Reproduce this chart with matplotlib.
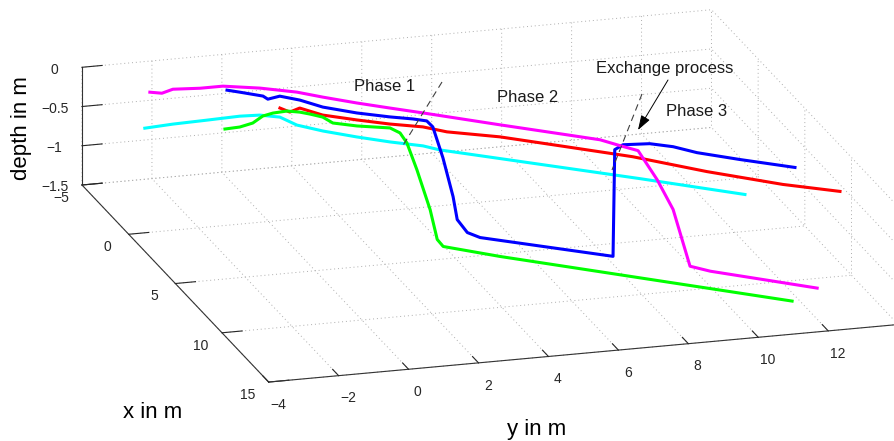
import matplotlib
matplotlib.use("Agg")
import matplotlib.pyplot as plt
from matplotlib.lines import Line2D
from mpl_toolkits.mplot3d import proj3d

plt.rcParams['font.family'] = ['Liberation Sans', 'DejaVu Sans']

# ---- vehicle tracks: x (m), y (m), depth (m) ----
magenta_x = [-4.66, -4.46, -4.74, -4.60, -4.60, -4.10, -3.41, -2.72, -1.88, -1.13, -0.39,
             1.38, 2.88, 3.63, 4.35, 4.97, 6.37, 8.20, 11.81, 12.45, 14.94]
magenta_y = [-2.15, -1.86, -1.47, -0.73, -0.08, 0.85, 1.72, 2.28, 3.03, 3.77, 4.52,
             6.25, 7.76, 8.51, 8.89, 9.24, 9.41, 9.38, 8.90, 9.31, 11.70]
magenta_z = [-0.35, -0.35, -0.35, -0.35, -0.35, -0.35, -0.35, -0.35, -0.35, -0.35, -0.35,
             -0.35, -0.35, -0.35, -0.35, -0.35, -0.55, -0.70, -0.95, -0.95, -0.95]

blue_x = [-4.19, -3.89, -3.33, -3.00, -3.18, -2.64, -1.79, -0.95, -0.30, 0.09, 0.39,
          0.85, 2.87, 5.12, 6.20, 6.91, 7.34, 7.78, 10.23,
          4.68, 4.29, 4.42, 4.90, 5.66, 6.67, 7.88]
blue_y = [-0.07, 0.22, 0.73, 0.78, 1.17, 1.60, 2.03, 2.78, 3.55, 4.11, 4.42,
          4.47, 4.22, 3.91, 3.74, 3.84, 4.09, 4.55, 7.12,
          8.65, 8.99, 9.72, 10.26, 10.74, 11.70, 12.95]
blue_z = [-0.35, -0.35, -0.35, -0.35, -0.35, -0.35, -0.35, -0.35, -0.35, -0.35, -0.35,
          -0.37, -0.50, -0.70, -0.85, -0.93, -0.95, -0.95, -0.95,
          -0.35, -0.35, -0.35, -0.35, -0.35, -0.35, -0.35]

red_x = [-5.00, -4.54, -4.83, -3.98, -3.23, -2.57, -2.02, -1.35, -0.43, 1.07, 2.56, 4.58, 6.43, 7.57]
red_y = [1.66, 1.82, 2.18, 2.61, 3.39, 4.15, 4.95, 5.46, 6.73, 8.24, 9.73, 11.31, 12.99, 14.32]
red_z = [-0.75, -0.75, -0.75, -0.75, -0.75, -0.75, -0.75, -0.75, -0.75, -0.75, -0.75, -0.75, -0.75, -0.75]

cyan_x = [-4.64, -4.78, -4.86, -4.95, -4.88, -4.52, -3.63, -2.85, -2.01, -1.26, -0.61, -0.09, 4.30, 6.68]
cyan_y = [-2.30, -1.46, -0.47, 0.50, 1.05, 1.53, 1.78, 2.32, 3.06, 3.81, 4.58, 4.92, 9.47, 11.84]
cyan_z = [-0.80, -0.80, -0.80, -0.80, -0.80, -0.80, -0.80, -0.80, -0.80, -0.80, -0.80, -0.80, -0.80, -0.80]

green_x = [-3.51, -3.57, -3.83, -4.40, -4.59, -4.66, -4.45, -4.18, -3.79, -3.15, -2.67, -2.20, -1.65,
           -1.03, 1.21, 4.31, 6.42, 6.76, 8.18, 14.84]
green_y = [-0.31, 0.13, 0.57, 1.01, 1.35, 1.77, 2.08, 2.30, 2.56, 2.68, 3.24, 4.06, 4.20,
           4.23, 3.92, 3.47, 3.11, 3.19, 4.44, 11.01]
green_z = [-0.75, -0.75, -0.75, -0.75, -0.75, -0.75, -0.75, -0.75, -0.75, -0.75, -0.75, -0.75, -0.75,
           -0.80, -0.85, -0.95, -1.05, -1.10, -1.10, -1.10]

x_ticks = [-5, 0, 5, 10, 15]
y_ticks = [-4, -2, 0, 2, 4, 6, 8, 10, 12]
z_ticks = [-1.5, -1, -0.5, 0]
z_tick_labels = ['\u22121.5', '\u22121', '\u22120.5', '0']

W, H = 895, 441
fig = plt.figure(figsize=(W / 100, H / 100), dpi=100)
ax = fig.add_axes([0, 0, 1, 1], projection='3d', proj_type='ortho')
ax.view_init(elev=18.1, azim=-16.4)
ax.set_box_aspect((662, 657, 124))
ax.set_xlim(-5, 15, view_margin=0)
ax.set_ylim(-4, 14, view_margin=0)
ax.set_zlim(-1.5, 0, view_margin=0)
ax.computed_zorder = False

ax.set_xticks(x_ticks)
ax.set_yticks(y_ticks)
ax.set_zticks(z_ticks)
ax.set_zticklabels(z_tick_labels)
ax.zaxis.set_ticks_position('lower')

for axis in (ax.xaxis, ax.yaxis, ax.zaxis):
    axis.set_pane_color((1, 1, 1, 0))
    axis.pane.set_edgecolor('none')
    axis._axinfo['grid'].update(color=(0.68, 0.68, 0.68), linewidth=0.7, linestyle=(0, (1, 3)))
    axis.line.set_color('0.2')
    axis.line.set_linewidth(0.8)
    axis._axinfo['tick']['inward_factor'] = 0.0
    axis._axinfo['tick']['outward_factor'] = 0.4
    axis._axinfo['tick']['linewidth'] = {True: 0.8, False: 0.5}
    axis._axinfo['tick']['color'] = '0.2'
ax.tick_params(labelsize=10, colors='0.15')
ax.yaxis.set_tick_params(pad=9)

lw = 2.2
ax.plot(red_x, red_y, red_z, color=(1, 0, 0), lw=lw, zorder=1)
ax.plot(cyan_x, cyan_y, cyan_z, color=(0, 1, 1), lw=lw, zorder=2)
ax.plot(green_x, green_y, green_z, color=(0, 1, 0), lw=lw, zorder=3)
ax.plot(blue_x, blue_y, blue_z, color=(0, 0, 1), lw=lw, zorder=4)
ax.plot(magenta_x, magenta_y, magenta_z, color=(1, 0, 1), lw=lw, zorder=5)

# ---- place the box so its corners land where wanted ----
fig.canvas.draw()


def screen(x, y, z):
    xs, ys, _ = proj3d.proj_transform(x, y, z, ax.get_proj())
    return ax.transData.transform((xs, ys))


a = screen(-5, -4, -1.5)
b = screen(15, 12, -1.5)
ta = (82.0, H - 185.0)
tb = (828.0, H - 332.0)
k = ((tb[0] - ta[0]) ** 2 + (tb[1] - ta[1]) ** 2) ** 0.5 / ((b[0] - a[0]) ** 2 + (b[1] - a[1]) ** 2) ** 0.5
pos = ax.get_position()
L = pos.width * W
cx = pos.x0 * W + L / 2
cy = pos.y0 * H + pos.height * H / 2
ncx = ta[0] - k * (a[0] - cx)
ncy = ta[1] - k * (a[1] - cy)
nL = k * L
ax.set_position([(ncx - nL / 2) / W, (ncy - nL / 2) / H, nL / W, nL / H])


def fxy(px, py):
    return (px / W, 1 - py / H)


# ---- axis titles ----
fig.text(*fxy(153, 413), 'x in m', fontsize=16, ha='center', va='center')
fig.text(*fxy(537, 430), 'y in m', fontsize=16, ha='center', va='center')
fig.text(*fxy(22, 128), 'depth in m', fontsize=16, ha='center', va='center', rotation=90)

# ---- phase annotations ----
notes = [('Phase 1', (385, 86)), ('Phase 2', (528, 97)),
         ('Exchange process', (665, 68)), ('Phase 3', (697, 112))]
for txt, p in notes:
    fig.text(*fxy(*p), txt, fontsize=12, ha='center', va='center', color='0.1')

for p0, p1 in [((442, 82), (402, 147)), ((642, 94), (612, 170))]:
    (x0, y0), (x1, y1) = fxy(*p0), fxy(*p1)
    fig.add_artist(Line2D([x0, x1], [y0, y1], transform=fig.transFigure,
                          color='0.25', lw=0.8, dashes=(6, 4)))

ax.annotate('', xy=fxy(638, 130), xytext=fxy(668, 80),
            xycoords='figure fraction', textcoords='figure fraction',
            arrowprops=dict(arrowstyle='-|>,head_length=0.9,head_width=0.3',
                            color='black', lw=0.7, shrinkA=0, shrinkB=0))

fig.savefig('out.png', dpi=100)
